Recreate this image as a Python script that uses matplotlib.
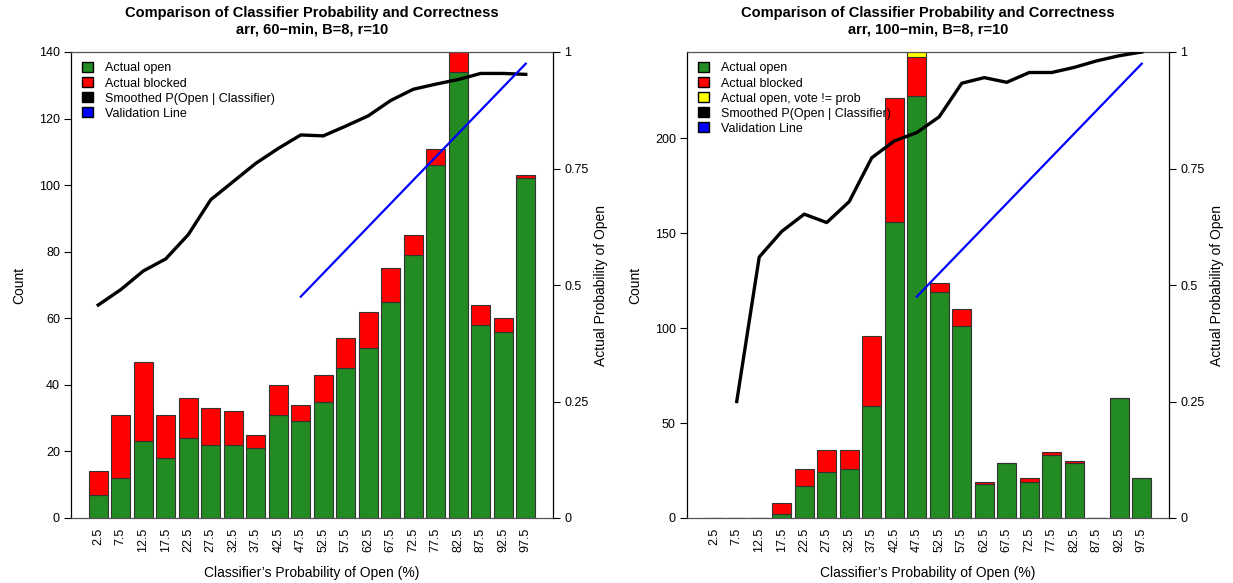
import numpy as np
import matplotlib
matplotlib.use("Agg")
import matplotlib.pyplot as plt
from matplotlib.patches import Patch

plt.rcParams['font.family'] = ['Liberation Sans', 'DejaVu Sans']

bins = ["2.5", "7.5", "12.5", "17.5", "22.5", "27.5", "32.5", "37.5", "42.5", "47.5",
        "52.5", "57.5", "62.5", "67.5", "72.5", "77.5", "82.5", "87.5", "92.5", "97.5"]
centers = [2.5, 7.5, 12.5, 17.5, 22.5, 27.5, 32.5, 37.5, 42.5, 47.5,
           52.5, 57.5, 62.5, 67.5, 72.5, 77.5, 82.5, 87.5, 92.5, 97.5]

# Left panel: 60-min
open60 = [7, 12, 23, 18, 24, 22, 22, 21, 31, 29, 35, 45, 51, 65, 79, 106, 134, 58, 56, 102]
blocked60 = [7, 19, 24, 13, 12, 11, 10, 4, 9, 5, 8, 9, 11, 10, 6, 5, 7, 6, 4, 1]
smooth60 = [0.457, 0.490, 0.530, 0.556, 0.608, 0.683, 0.722, 0.761, 0.793, 0.822,
            0.820, 0.841, 0.863, 0.896, 0.920, 0.931, 0.941, 0.954, 0.954, 0.952]

# Right panel: 100-min
open100 = [0, 0, 0, 2, 17, 24, 26, 59, 156, 222, 119, 101, 18, 29, 19, 33, 29, 0, 63, 21]
blocked100 = [0, 0, 0, 6, 9, 12, 10, 37, 65, 21, 5, 9, 1, 0, 2, 2, 1, 0, 0, 0]
vote100 = [0, 0, 0, 0, 0, 0, 0, 0, 0, 3, 0, 0, 0, 0, 0, 0, 0, 0, 0, 0]
smooth100 = [np.nan, 0.250, 0.560, 0.615, 0.652, 0.634, 0.679, 0.773, 0.809, 0.827,
             0.861, 0.933, 0.945, 0.935, 0.956, 0.956, 0.967, 0.981, 0.992, 1.0]

val_start = 47.5  # validation line from this bin onward (y = x/100)

GREEN = "#228B22"
RED = "#FF0000"
YELLOW = "#FFFF00"
EDGE = "#333333"

fig = plt.figure(figsize=(12.33, 5.83), dpi=100)

def panel(left_px, title2, opn, blk, vote, smooth, ylim, yticks, legend_vote):
    W, H = 1233, 583
    ax = fig.add_axes([left_px / W, (H - 518) / H, 482 / W, 466 / H])
    x = 0.7 + 1.2 * np.arange(len(bins))
    opn = np.array(opn, float); blk = np.array(blk, float)
    ax.bar(x, opn, width=1.0, color=GREEN, edgecolor=EDGE, linewidth=0.8)
    ax.bar(x, blk, width=1.0, bottom=opn, color=RED, edgecolor=EDGE, linewidth=0.8)
    if vote is not None:
        vote = np.array(vote, float)
        mask = vote > 0
        ax.bar(x[mask], vote[mask], width=1.0, bottom=(opn + blk)[mask], color=YELLOW,
               edgecolor=EDGE, linewidth=0.8)
    ax.set_xlim(-0.752, 24.952)
    ax.set_ylim(*ylim)
    ax.set_yticks(yticks)
    ax.set_yticklabels([str(t) for t in yticks])
    ax.set_xticks(x)
    ax.set_xticklabels(bins, rotation=90)
    ax.tick_params(axis='x', length=0, pad=7, labelsize=9)
    ax.tick_params(axis='y', length=5, width=0.8, pad=3, labelsize=9)
    for s in ['top', 'bottom']:
        ax.spines[s].set_color('#555555')
        ax.spines[s].set_linewidth(0.9)
    for s in ['left', 'right']:
        ax.spines[s].set_color('black')
        ax.spines[s].set_linewidth(0.9)
    ax.set_ylabel("Count", fontsize=10, labelpad=9)
    ax.set_xlabel("Classifier\u2019s Probability of Open (%)", fontsize=10, labelpad=10)
    ax.set_title("Comparison of Classifier Probability and Correctness\n" + title2,
                 fontsize=10.5, fontweight='bold', pad=13, linespacing=1.25)

    ax2 = ax.twinx()
    ax2.set_ylim(0, 1)
    ax2.set_yticks([0, 0.25, 0.5, 0.75, 1])
    ax2.set_yticklabels(["0", "0.25", "0.5", "0.75", "1"])
    ax2.tick_params(axis='y', length=5, width=0.8, pad=3, labelsize=9)
    for s in ax2.spines.values():
        s.set_visible(False)
    ax2.set_ylabel("Actual Probability of Open", fontsize=10, labelpad=4)
    ax2.plot(x, smooth, color='black', linewidth=2.4, solid_joinstyle='round')
    c = np.array(centers)
    m = c >= val_start
    ax2.plot(x[m], c[m] / 100.0, color='blue', linewidth=1.6)

    handles = [Patch(facecolor=GREEN, edgecolor='black', label="Actual open"),
               Patch(facecolor=RED, edgecolor='black', label="Actual blocked")]
    if legend_vote:
        handles.append(Patch(facecolor=YELLOW, edgecolor='black', label="Actual open, vote != prob"))
    handles += [Patch(facecolor='black', edgecolor='black', label="Smoothed P(Open | Classifier)"),
                Patch(facecolor='blue', edgecolor='black', label="Validation Line")]
    ax2.legend(handles=handles, loc='upper left', frameon=False, fontsize=9,
               handlelength=0.85, handleheight=0.85, handletextpad=1.0,
               labelspacing=0.22, borderaxespad=0.3, bbox_to_anchor=(0.005, 0.997))
    return ax

panel(71, "arr, 60\u2212min, B=8, r=10", open60, blocked60, None, smooth60,
      (0, 140), [0, 20, 40, 60, 80, 100, 120, 140], False)
panel(687, "arr, 100\u2212min, B=8, r=10", open100, blocked100, vote100, smooth100,
      (0, 245.4), [0, 50, 100, 150, 200], True)

fig.savefig("out.png", dpi=100)
